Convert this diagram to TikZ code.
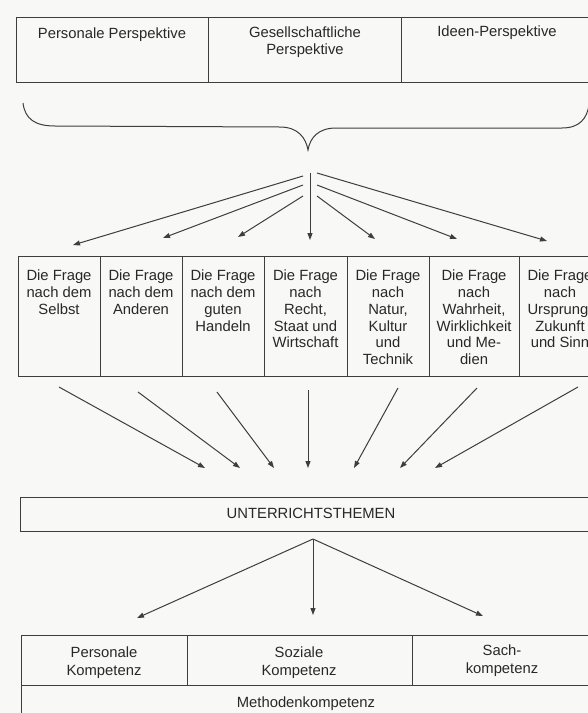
\documentclass[tikz,border=0pt]{standalone}
\usepackage{fontspec}
\setmainfont{Liberation Sans}
\usetikzlibrary{arrows.meta}
\definecolor{paper}{RGB}{248,248,246}
\definecolor{ink}{RGB}{62,62,62}
\definecolor{txt}{RGB}{40,40,40}
\begin{document}
\begin{tikzpicture}[x=1pt,y=-1pt,
  box/.style={draw=ink,line width=1pt,inner sep=0pt,anchor=north west},
  lbl/.style={anchor=north,align=center,inner sep=0pt,text=txt,font=\fontsize{14.8}{16.7}\selectfont},
  lblb/.style={lbl,font=\fontsize{14.8}{17.5}\selectfont},
  ln/.style={draw=ink,line width=1pt},
  arr/.style={ln,-{Triangle[length=7pt,width=5pt]}}]
\useasboundingbox (0,0) rectangle (588,713);
\clip (0,0) rectangle (588,713);
\fill[paper] (0,0) rectangle (588,713);

% ---- top row: perspectives
\node[box,minimum width=192pt,minimum height=65pt] (p1) at (16,17) {};
\node[box,minimum width=193pt,minimum height=65pt] (p2) at (208,17) {};
\node[box,minimum width=199pt,minimum height=65pt] (p3) at (401,17) {};
\node[lbl] (tp1) at (112,28) {Personale Perspektive};
\node[lbl] (tp2) at (305,27) {Gesellschaftliche\\Perspektive};
\node[lbl] (tp3) at (497,26) {Ideen-Perspektive};

% ---- brace
\draw[ln] (23,103) .. controls (25,119) and (35,126) .. (55,126) -- (280,127)
  .. controls (298,127) and (306,138) .. (308,150)
  .. controls (310,138) and (318,128) .. (336,128) -- (562,128)
  .. controls (580,128) and (587,118) .. (589,105);

% ---- middle row: questions
\node[box,minimum width=82pt,minimum height=120pt] (q1) at (18,256) {};
\node[box,minimum width=82pt,minimum height=120pt] (q2) at (100,256) {};
\node[box,minimum width=82pt,minimum height=120pt] (q3) at (182,256) {};
\node[box,minimum width=83pt,minimum height=120pt] (q4) at (264,256) {};
\node[box,minimum width=82pt,minimum height=120pt] (q5) at (347,256) {};
\node[box,minimum width=90pt,minimum height=120pt] (q6) at (429,256) {};
\node[box,minimum width=82pt,minimum height=120pt] (q7) at (519,256) {};
\node[lbl] (tq1) at (59,270) {Die Frage\\nach dem\\Selbst};
\node[lbl] (tq2) at (141,270) {Die Frage\\nach dem\\Anderen};
\node[lbl] (tq3) at (223,270) {Die Frage\\nach dem\\guten\\Handeln};
\node[lbl] (tq4) at (305.5,270) {Die Frage\\nach\\Recht,\\Staat und\\Wirtschaft};
\node[lbl] (tq5) at (388,270) {Die Frage\\nach\\Natur,\\Kultur\\und\\Technik};
\node[lbl] (tq6) at (474,270) {Die Frage\\nach\\Wahrheit,\\Wirklichkeit\\und Me-\\dien};
\node[lbl] (tq7) at (560,270) {Die Frage\\nach\\Ursprung,\\Zukunft\\und Sinn};

% ---- fan from brace to questions
\coordinate (a1) at (303,176); \coordinate (e1) at (73,245);
\coordinate (a2) at (303,185); \coordinate (e2) at (163,238);
\coordinate (a3) at (303,196); \coordinate (e3) at (238,237);
\coordinate (a4) at (310,173); \coordinate (e4) at (310,240);
\coordinate (a5) at (317,196); \coordinate (e5) at (375,239);
\coordinate (a6) at (317,185); \coordinate (e6) at (457,239);
\coordinate (a7) at (317,173); \coordinate (e7) at (547,241);
\foreach \i in {1,...,7} {\draw[arr] (a\i) -- (e\i);}

% ---- arrows from questions to topics
\coordinate (b1) at (59,387);  \coordinate (f1) at (205,468);
\coordinate (b2) at (138,392); \coordinate (f2) at (240,468);
\coordinate (b3) at (217,392); \coordinate (f3) at (274,468);
\coordinate (b4) at (308,390); \coordinate (f4) at (308,468);
\coordinate (b5) at (398,388); \coordinate (f5) at (354,468);
\coordinate (b6) at (477,388); \coordinate (f6) at (400,468);
\coordinate (b7) at (578,387); \coordinate (f7) at (435,468);
\foreach \i in {1,...,7} {\draw[arr] (b\i) -- (f\i);}

% ---- topics
\node[box,minimum width=582pt,minimum height=34pt] (ut) at (20,497) {};
\node[lbl] (tut) at (311,507.5) {UNTERRICHTSTHEMEN};

% ---- fan to competences
\coordinate (k0) at (313,539);
\coordinate (k1) at (137,618);
\coordinate (k2) at (313,615);
\coordinate (k3) at (483,616);
\foreach \i in {1,2,3} {\draw[arr] (k0) -- (k\i);}

% ---- competences
\node[box,minimum width=166pt,minimum height=50pt] (c1) at (21,635) {};
\node[box,minimum width=225pt,minimum height=50pt] (c2) at (187,635) {};
\node[box,minimum width=188pt,minimum height=50pt] (c3) at (412,635) {};
\node[box,minimum width=579pt,minimum height=45pt] (c4) at (21,685) {};
\node[lblb] (tc1) at (104,647) {Personale\\Kompetenz};
\node[lblb] (tc2) at (299,647) {Soziale\\Kompetenz};
\node[lblb] (tc3) at (502,645) {Sach-\\kompetenz};
\node[lbl] (tc4) at (306,696.5) {Methodenkompetenz};
\end{tikzpicture}
\end{document}
